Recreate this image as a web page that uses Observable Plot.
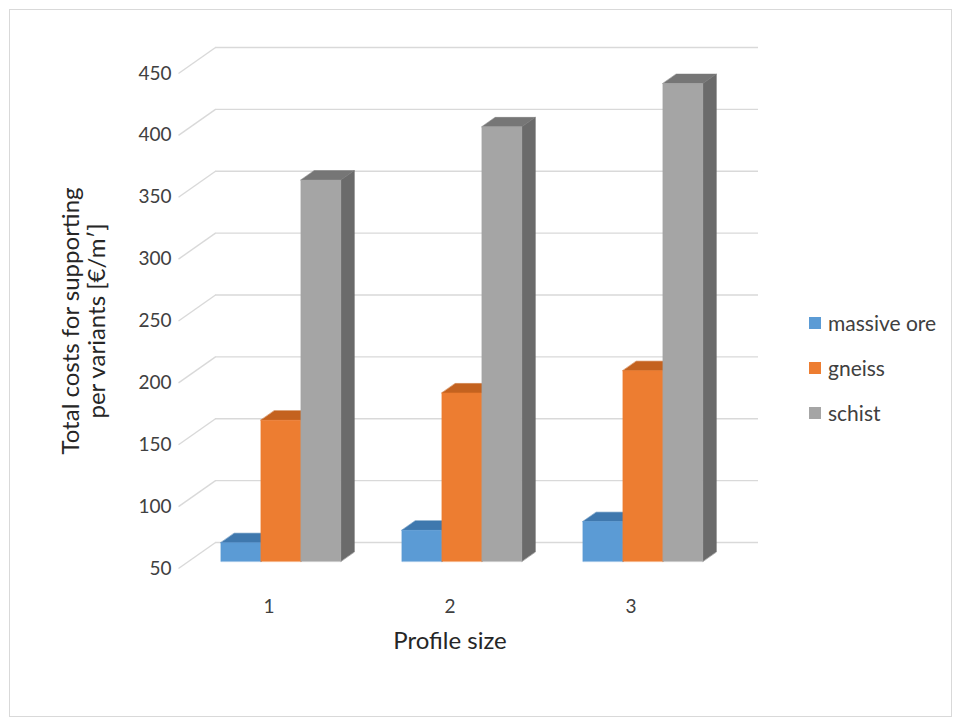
<!DOCTYPE html>
<html>
<head>
<meta charset="utf-8">
<script src="https://cdn.jsdelivr.net/npm/d3@7"></script>
<script src="https://cdn.jsdelivr.net/npm/@observablehq/plot@0.6"></script>
<style>
  body { margin: 0; background: #fff; font-family: Lato, "Open Sans", sans-serif; }
  #chart { position: relative; width: 960px; height: 725px; }
  #chart svg { position: absolute; left: 0; top: 0; }
  #border { position: absolute; left: 9px; top: 9px; width: 941px; height: 706px; border: 1px solid #d9d9d9; pointer-events: none; }
  #legend { position: absolute; left: 809px; top: 300px; font-size: 21px; color: #404040; }
  #legend .row { display: flex; align-items: center; height: 45px; }
  #legend .sw { width: 12px; height: 12px; margin-right: 7px; }
</style>
</head>
<body>
<div id="chart"><div id="border"></div><div id="legend"></div></div>
<script>
// Total costs for supporting per profile size and rock type
const profiles = ["1", "2", "3"];
const seriesNames = ["massive ore", "gneiss", "schist"];
const massiveOre = [65, 75, 82];
const gneiss = [164, 186, 204];
const schist = [358, 401, 436];
const yTicks = [50, 100, 150, 200, 250, 300, 350, 400, 450];

const seriesValues = [massiveOre, gneiss, schist];
const palette = [
  {front: "#5b9bd5", top: "#3f78ae", side: "#3f78ae"},
  {front: "#ed7d31", top: "#c4621f", side: "#c4621f"},
  {front: "#a5a5a5", top: "#767676", side: "#6b6b6b"}
];

// frame geometry
const W = 960, H = 725;
const ML = 178, MR = 239, MT = 73, MB = 157;
const ux = 3 / (W - ML - MR);        // x data units per pixel
const uy = 400 / (H - MT - MB);      // y data units per pixel
const DEPTH_X = 37, DEPTH_Y = 26;    // oblique depth of the floor, in pixels
const off = t => [t * DEPTH_X * ux, t * DEPTH_Y * uy];
const barW = 40 * ux;
const tFront = 0.28, tBack = 0.645;

// faces of each 3-D column, in painting order
const faces = [];
profiles.forEach((p, g) => {
  seriesValues.forEach((vals, s) => {
    const v = vals[g];
    const x1 = g + 0.5 + (s - 1.5) * barW + 1.5 * ux, x2 = x1 + barW;
    const [fx, fy] = off(tFront), [bx, by] = off(tBack);
    const c = palette[s];
    const add = (name, fill, pts) => pts.forEach(([x, y]) => faces.push({id: `${p}-${s}-${name}`, fill, x, y}));
    add("side", c.side, [[x2 + fx, 50 + fy], [x2 + fx, v + fy], [x2 + bx, v + by], [x2 + bx, 50 + by]]);
    add("top", c.top, [[x1 + fx, v + fy], [x2 + fx, v + fy], [x2 + bx, v + by], [x1 + bx, v + by]]);
    add("front", c.front, [[x1 + fx, 50 + fy], [x1 + fx, v + fy], [x2 + fx, v + fy], [x2 + fx, 50 + fy]]);
  });
});

const grid = "#d9d9d9";
const plot = Plot.plot({
  width: W, height: H,
  marginLeft: ML, marginRight: MR, marginTop: MT, marginBottom: MB,
  style: {fontFamily: "Lato, 'Open Sans', sans-serif", background: "transparent"},
  x: {domain: [0, 3], axis: null},
  y: {domain: [50, 450], axis: null},
  color: {type: "identity"},
  marks: [
    // back wall gridlines
    Plot.ruleY(yTicks, {y: d => d, x1: 0, x2: 3, dx: DEPTH_X, dy: -DEPTH_Y, stroke: grid, strokeWidth: 1.4}),
    // side wall gridlines
    Plot.link(yTicks, {x1: 0, y1: d => d, x2: DEPTH_X * ux, y2: d => d + DEPTH_Y * uy, stroke: grid, strokeWidth: 1.4}),
    // columns
    Plot.line(faces, {x: "x", y: "y", z: "id", fill: "fill", stroke: "fill", strokeWidth: 0.5, curve: "linear-closed"}),
    // value axis
    Plot.axisY(yTicks, {tickSize: 0, tickPadding: 7, fontSize: 19, fill: "#404040", label: null}),
    // category labels
    Plot.text(profiles, {x: (d, i) => i + 0.5, y: 50, dy: 38, text: d => d, fontSize: 19, fill: "#404040"}),
    // axis titles
    Plot.text(["Profile size"], {frameAnchor: "bottom", dy: 80, text: d => d, fontSize: 24, fill: "#262626"}),
    Plot.text(["Total costs for supporting\nper variants [€/m′]"], {frameAnchor: "left", textAnchor: "middle", dx: -95, rotate: -90, text: d => d, fontSize: 24, lineHeight: 1.1, fill: "#262626"})
  ]
});
document.getElementById("chart").prepend(plot);

// legend
const legend = document.getElementById("legend");
seriesNames.forEach((name, i) => {
  const row = document.createElement("div");
  row.className = "row";
  row.innerHTML = `<span class="sw" style="background:${palette[i].front}"></span><span>${name}</span>`;
  legend.appendChild(row);
});
</script>
</body>
</html>
